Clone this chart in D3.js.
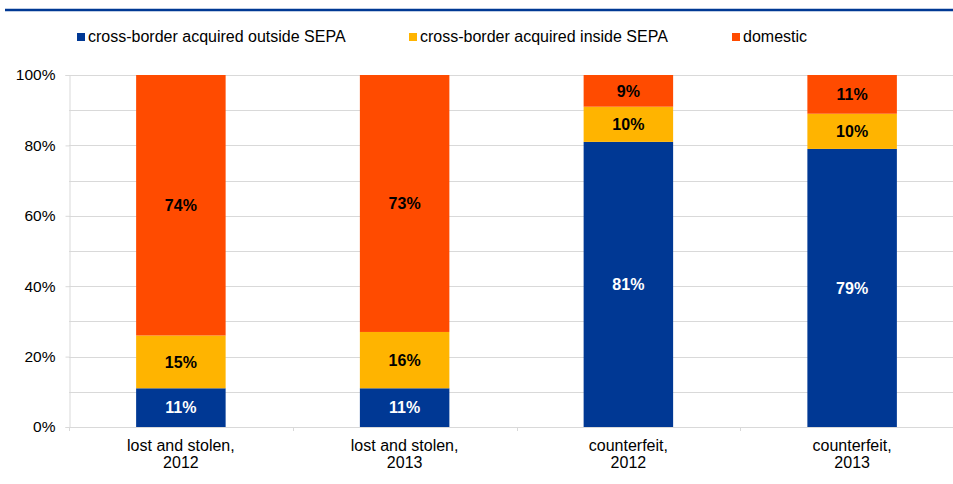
<!DOCTYPE html>
<html><head><meta charset="utf-8">
<script src="https://cdn.jsdelivr.net/npm/d3@7"></script>
<style>body{margin:0;background:#fff}svg{display:block;font-family:"Liberation Sans",Arial,sans-serif}</style>
</head><body><svg id="c" width="953" height="484"></svg>
<script>
const categories = [["lost and stolen,","2012"],["lost and stolen,","2013"],["counterfeit,","2012"],["counterfeit,","2013"]];
const seriesNames = ["cross-border acquired outside SEPA","cross-border acquired inside SEPA","domestic"];
const outsideSEPA = [11, 11, 81, 79];
const insideSEPA = [15, 16, 10, 10];
const domestic = [74, 73, 9, 11];
const yTicks = [0, 20, 40, 60, 80, 100];
const colors = ["#003894", "#FFB400", "#FF4B00"];
const labelColors = ["#fff", "#000", "#000"];

const svg = d3.select("#c");
const W = 953;
svg.append("line").attr("x1", 5).attr("x2", W).attr("y1", 10).attr("y2", 10)
  .attr("stroke", "#003894").attr("stroke-width", 2.5);

const x = d3.scaleBand().domain(d3.range(categories.length)).range([69, 964]).paddingInner(0.6).paddingOuter(0.3);
const y = d3.scaleLinear().domain([0, 100]).range([427, 75]);

// gridlines every 10%
svg.append("g").selectAll("line").data(d3.range(10, 101, 10)).join("line")
  .attr("x1", 69).attr("x2", W).attr("y1", d => Math.round(y(d)) + 0.5).attr("y2", d => Math.round(y(d)) + 0.5)
  .attr("stroke", "#d9d9d9").attr("stroke-width", 1);

// y axis
const yAxis = svg.append("g").attr("transform", "translate(69.5,0)")
  .call(d3.axisLeft(y).tickValues(yTicks).tickFormat(d => d + "%").tickSize(4).tickPadding(10));
yAxis.select(".domain").attr("stroke", "#d9d9d9");
yAxis.selectAll(".tick line").attr("stroke", "#d9d9d9");
yAxis.selectAll("text").attr("font-size", 15.5).attr("fill", "#000").attr("font-family", "Liberation Sans, Arial, sans-serif");

// x axis line and category ticks
const xb = d3.scaleLinear().domain([0, categories.length]).range([69, 964]);
svg.append("line").attr("x1", 69).attr("x2", W).attr("y1", 427.5).attr("y2", 427.5).attr("stroke", "#d9d9d9");
svg.selectAll("line.xt").data(d3.range(categories.length + 1)).join("line")
  .attr("x1", d => Math.round(xb(d)) + 0.5).attr("x2", d => Math.round(xb(d)) + 0.5)
  .attr("y1", 427).attr("y2", 431).attr("stroke", "#d9d9d9");

// stacked data
const rows = categories.map((c, i) => ({i, s0: outsideSEPA[i], s1: insideSEPA[i], s2: domestic[i]}));
const stack = d3.stack().keys(["s0", "s1", "s2"])(rows);
stack.forEach((layer, k) => {
  svg.append("g").selectAll("rect").data(layer).join("rect")
    .attr("x", d => x(d.data.i)).attr("width", x.bandwidth())
    .attr("y", d => y(d[1])).attr("height", d => y(d[0]) - y(d[1]))
    .attr("fill", colors[k]);
  svg.append("g").selectAll("text").data(layer).join("text")
    .attr("x", d => x(d.data.i) + x.bandwidth() / 2)
    .attr("y", d => (y(d[0]) + y(d[1])) / 2)
    .attr("dy", "0.36em").attr("text-anchor", "middle")
    .attr("font-size", 16).attr("font-weight", "bold").attr("fill", labelColors[k])
    .text(d => (d[1] - d[0]) + "%");
});

// category labels
svg.append("g").selectAll("text").data(categories).join("text")
  .attr("text-anchor", "middle").attr("font-size", 16).attr("fill", "#000")
  .each(function(c, i) {
    const t = d3.select(this);
    c.forEach((line, j) => t.append("tspan").attr("x", x(i) + x.bandwidth() / 2).attr("y", 451 + j * 17).text(line));
  });

// legend
const legX = [77, 409, 732];
const lg = svg.append("g").selectAll("g").data(seriesNames).join("g")
  .attr("transform", (d, i) => `translate(${legX[i]},0)`);
lg.append("rect").attr("x", 0).attr("y", 33).attr("width", 8).attr("height", 8).attr("fill", (d, i) => colors[i]);
lg.append("text").attr("x", 11).attr("y", 42).attr("font-size", 16).attr("fill", "#000").text(d => d);
</script></body></html>
